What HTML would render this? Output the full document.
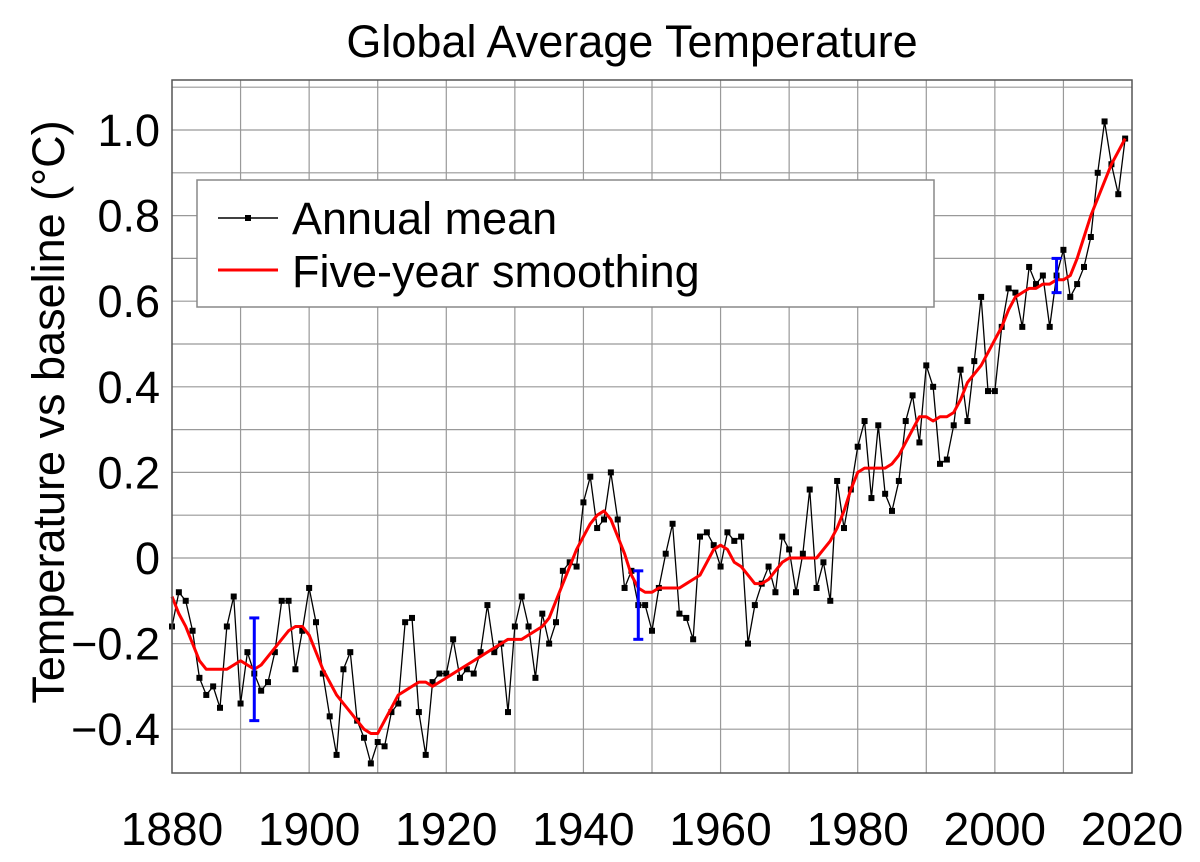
<!DOCTYPE html>
<html><head><meta charset="utf-8"><style>
html,body{margin:0;padding:0;background:#fff;}
svg text{font-family:"Liberation Sans",sans-serif;fill:#000;}
</style></head><body>
<svg id="chart" width="1200" height="857" viewBox="0 0 1200 857" xmlns="http://www.w3.org/2000/svg">
<text x="632" y="57" font-size="45" text-anchor="middle">Global Average Temperature</text>
<text transform="translate(64,412) rotate(-90)" font-size="45" text-anchor="middle">Temperature vs baseline (°C)</text>
<g id="grid"></g>
<g id="ticks"></g>
<g id="marks"></g>
<rect x="172" y="80" width="960" height="693" fill="none" stroke="#555" stroke-width="1.5"/>
<g>
<rect x="197" y="180" width="737" height="127" fill="#fff" stroke="#888" stroke-width="1.5"/>
<g>
<line x1="218" y1="218" x2="278" y2="218" stroke="#000" stroke-width="1.5"/>
<rect x="245" y="215" width="6" height="6" fill="#000"/>
<text x="292" y="234" font-size="45">Annual mean</text>
</g>
<g>
<line x1="218" y1="270" x2="278" y2="270" stroke="#f00" stroke-width="3"/>
<text x="292" y="287" font-size="45">Five-year smoothing</text>
</g>
</g>
</svg>
<script>
const years = [];
for (let y = 1880; y <= 2019; y++) years.push(y);
const annual = [-0.16,-0.08,-0.10,-0.17,-0.28,-0.32,-0.30,-0.35,-0.16,-0.09,
-0.34,-0.22,-0.27,-0.31,-0.29,-0.22,-0.10,-0.10,-0.26,-0.17,
-0.07,-0.15,-0.27,-0.37,-0.46,-0.26,-0.22,-0.38,-0.42,-0.48,
-0.43,-0.44,-0.36,-0.34,-0.15,-0.14,-0.36,-0.46,-0.29,-0.27,
-0.27,-0.19,-0.28,-0.26,-0.27,-0.22,-0.11,-0.22,-0.20,-0.36,
-0.16,-0.09,-0.16,-0.28,-0.13,-0.20,-0.15,-0.03,-0.01,-0.02,
0.13,0.19,0.07,0.09,0.20,0.09,-0.07,-0.03,-0.11,-0.11,
-0.17,-0.07,0.01,0.08,-0.13,-0.14,-0.19,0.05,0.06,0.03,
-0.02,0.06,0.04,0.05,-0.20,-0.11,-0.06,-0.02,-0.08,0.05,
0.02,-0.08,0.01,0.16,-0.07,-0.01,-0.10,0.18,0.07,0.16,
0.26,0.32,0.14,0.31,0.15,0.11,0.18,0.32,0.38,0.27,
0.45,0.40,0.22,0.23,0.31,0.44,0.32,0.46,0.61,0.39,
0.39,0.54,0.63,0.62,0.54,0.68,0.64,0.66,0.54,0.66,
0.72,0.61,0.64,0.68,0.75,0.90,1.02,0.92,0.85,0.98];
const smooth = [-0.09,-0.13,-0.16,-0.20,-0.24,-0.26,-0.26,-0.26,-0.26,-0.25,
-0.24,-0.25,-0.26,-0.25,-0.23,-0.21,-0.19,-0.17,-0.16,-0.16,
-0.18,-0.22,-0.26,-0.29,-0.32,-0.34,-0.36,-0.38,-0.40,-0.41,
-0.41,-0.38,-0.35,-0.32,-0.31,-0.30,-0.29,-0.29,-0.30,-0.29,
-0.28,-0.27,-0.26,-0.25,-0.24,-0.23,-0.22,-0.21,-0.20,-0.19,
-0.19,-0.19,-0.18,-0.17,-0.16,-0.14,-0.10,-0.06,-0.02,0.02,
0.05,0.08,0.10,0.11,0.09,0.05,0.01,-0.04,-0.07,-0.08,
-0.08,-0.07,-0.07,-0.07,-0.07,-0.06,-0.05,-0.04,-0.01,0.02,
0.03,0.02,-0.01,-0.02,-0.04,-0.06,-0.06,-0.05,-0.03,-0.01,
0.00,0.00,0.00,0.00,0.00,0.02,0.04,0.07,0.11,0.16,
0.20,0.21,0.21,0.21,0.21,0.22,0.24,0.27,0.30,0.33,
0.33,0.32,0.33,0.33,0.34,0.37,0.41,0.43,0.45,0.48,
0.51,0.54,0.58,0.61,0.62,0.63,0.63,0.64,0.64,0.65,
0.65,0.66,0.70,0.75,0.80,0.84,0.88,0.92,0.95,0.98];
const errYears = [1892, 1948, 2009];
const errLow = [-0.38, -0.19, 0.62];
const errHigh = [-0.14, -0.03, 0.70];
const xTicks = [1880,1900,1920,1940,1960,1980,2000,2020];
const yTicks = [-0.4,-0.2,0,0.2,0.4,0.6,0.8,1.0];
const yTickLabels = ["\u22120.4","\u22120.2","0","0.2","0.4","0.6","0.8","1.0"];

const X0=172,X1=1132,Y0=773,Y1=80;
const xS = y => X0 + (y-1880)*(X1-X0)/140;
const yS = v => 558 - v*428;
const NS="http://www.w3.org/2000/svg";
function mk(tag, attrs, parent){const e=document.createElementNS(NS,tag);for(const k in attrs)e.setAttribute(k,attrs[k]);parent.appendChild(e);return e;}
const grid=document.getElementById('grid'), ticks=document.getElementById('ticks'), marks=document.getElementById('marks');
for(let y=1890;y<2020;y+=10){const l=mk('line',{x1:xS(y),x2:xS(y),y1:Y1,y2:Y0,stroke:'#999','stroke-width':1.2},grid);

}
for(let v=-0.4;v<=1.11;v+=0.1){const l=mk('line',{x1:X0,x2:X1,y1:yS(v),y2:yS(v),stroke:'#999','stroke-width':1.2},grid);

}
xTicks.forEach(t=>{const e=mk('text',{x:xS(t),y:845,'font-size':46,'text-anchor':'middle'},ticks);e.textContent=t;

});
yTicks.forEach((t,i)=>{const e=mk('text',{x:160,y:yS(t)+16,'font-size':45,'text-anchor':'end'},ticks);e.textContent=yTickLabels[i];

});
const ap=mk('polyline',{points:years.map((y,i)=>xS(y)+','+yS(annual[i])).join(' '),fill:'none',stroke:'#000','stroke-width':1.3},marks);


years.forEach((y,i)=>{const r=mk('rect',{x:xS(y)-3,y:yS(annual[i])-3,width:6,height:6,fill:'#000'},marks);

});
const sp=mk('polyline',{points:years.map((y,i)=>xS(y)+','+yS(smooth[i])).join(' '),fill:'none',stroke:'#f00','stroke-width':3,'stroke-linejoin':'round'},marks);


errYears.forEach((y,i)=>{const g=mk('g',{stroke:'#00f','stroke-width':3},marks);


const x=xS(y);mk('line',{x1:x,x2:x,y1:yS(errLow[i]),y2:yS(errHigh[i])},g);
mk('line',{x1:x-5,x2:x+5,y1:yS(errLow[i]),y2:yS(errLow[i])},g);
mk('line',{x1:x-5,x2:x+5,y1:yS(errHigh[i]),y2:yS(errHigh[i])},g);});
</script>
</body></html>
